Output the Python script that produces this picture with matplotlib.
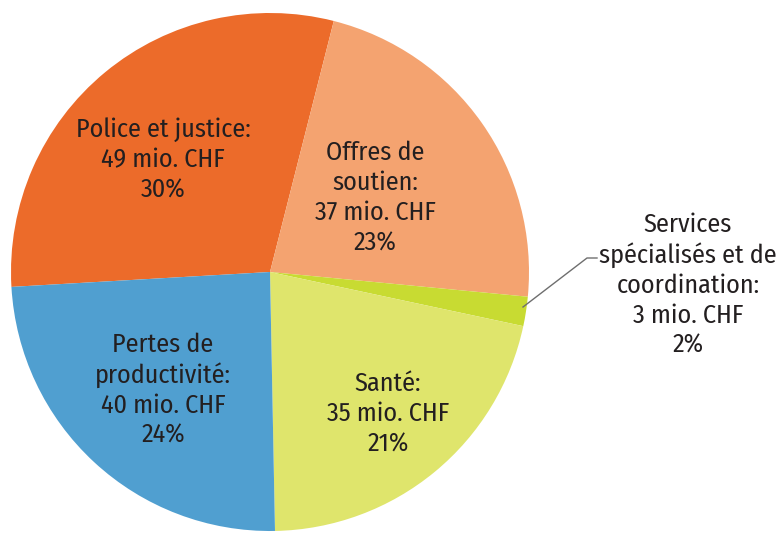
import matplotlib
matplotlib.use("Agg")
import matplotlib.pyplot as plt
from matplotlib import font_manager

categories = ["Police et justice", "Offres de soutien", "Services spécialisés et de coordination", "Santé", "Pertes de productivité"]
values = [49, 37, 3, 35, 40]
percents = [30, 23, 2, 21, 24]
label_texts = [
    "Police et justice:\n49 mio. CHF\n30%",
    "Offres de\nsoutien:\n37 mio. CHF\n23%",
    "Services\nspécialisés et de\ncoordination:\n3 mio. CHF\n2%",
    "Santé:\n35 mio. CHF\n21%",
    "Pertes de\nproductivité:\n40 mio. CHF\n24%",
]
colors = ["#EC6B2A", "#F4A370", "#C8DB32", "#DFE56C", "#509FD0"]

names = {f.name for f in font_manager.fontManager.ttflist}
fam = "DejaVu Sans"
for cand in ["Fira Sans Condensed", "PT Sans Narrow", "Ubuntu Condensed",
             "Encode Sans Condensed", "Asap Condensed", "IBM Plex Sans Condensed"]:
    if cand in names:
        fam = cand
        break

W, H = 779, 541
fig = plt.figure(figsize=(W / 100, H / 100), dpi=100)
ax = fig.add_axes([0, 0, 1, 1])

cx, cy, r = 270, H - 272, 259
ax.pie(values, colors=colors, startangle=183.3, counterclock=False,
       center=(cx, cy), radius=r, frame=True,
       wedgeprops=dict(linewidth=0))
ax.set_xlim(0, W)
ax.set_ylim(0, H)
ax.set_aspect("equal")
ax.axis("off")

# size the font so that "Police et justice:" is about 175 px wide
renderer = fig.canvas.get_renderer()
probe = ax.text(0, 0, "Police et justice:", fontsize=16, family=fam)
wpx = probe.get_window_extent(renderer).width
probe.remove()
fs = 16 * 175.0 / wpx

pos = [(163, 160), (375, 198), (688, 285), (388, 414), (163, 390)]
for (x, y), t in zip(pos, label_texts):
    ax.text(x, H - y, t, ha="center", va="center", fontsize=fs,
            family=fam, color="#231F20", linespacing=1.26)

ax.plot([523, 587, 597], [H - 307, H - 258, H - 258], color="#6E6E6E", lw=1)

fig.savefig("out.png", dpi=100)
